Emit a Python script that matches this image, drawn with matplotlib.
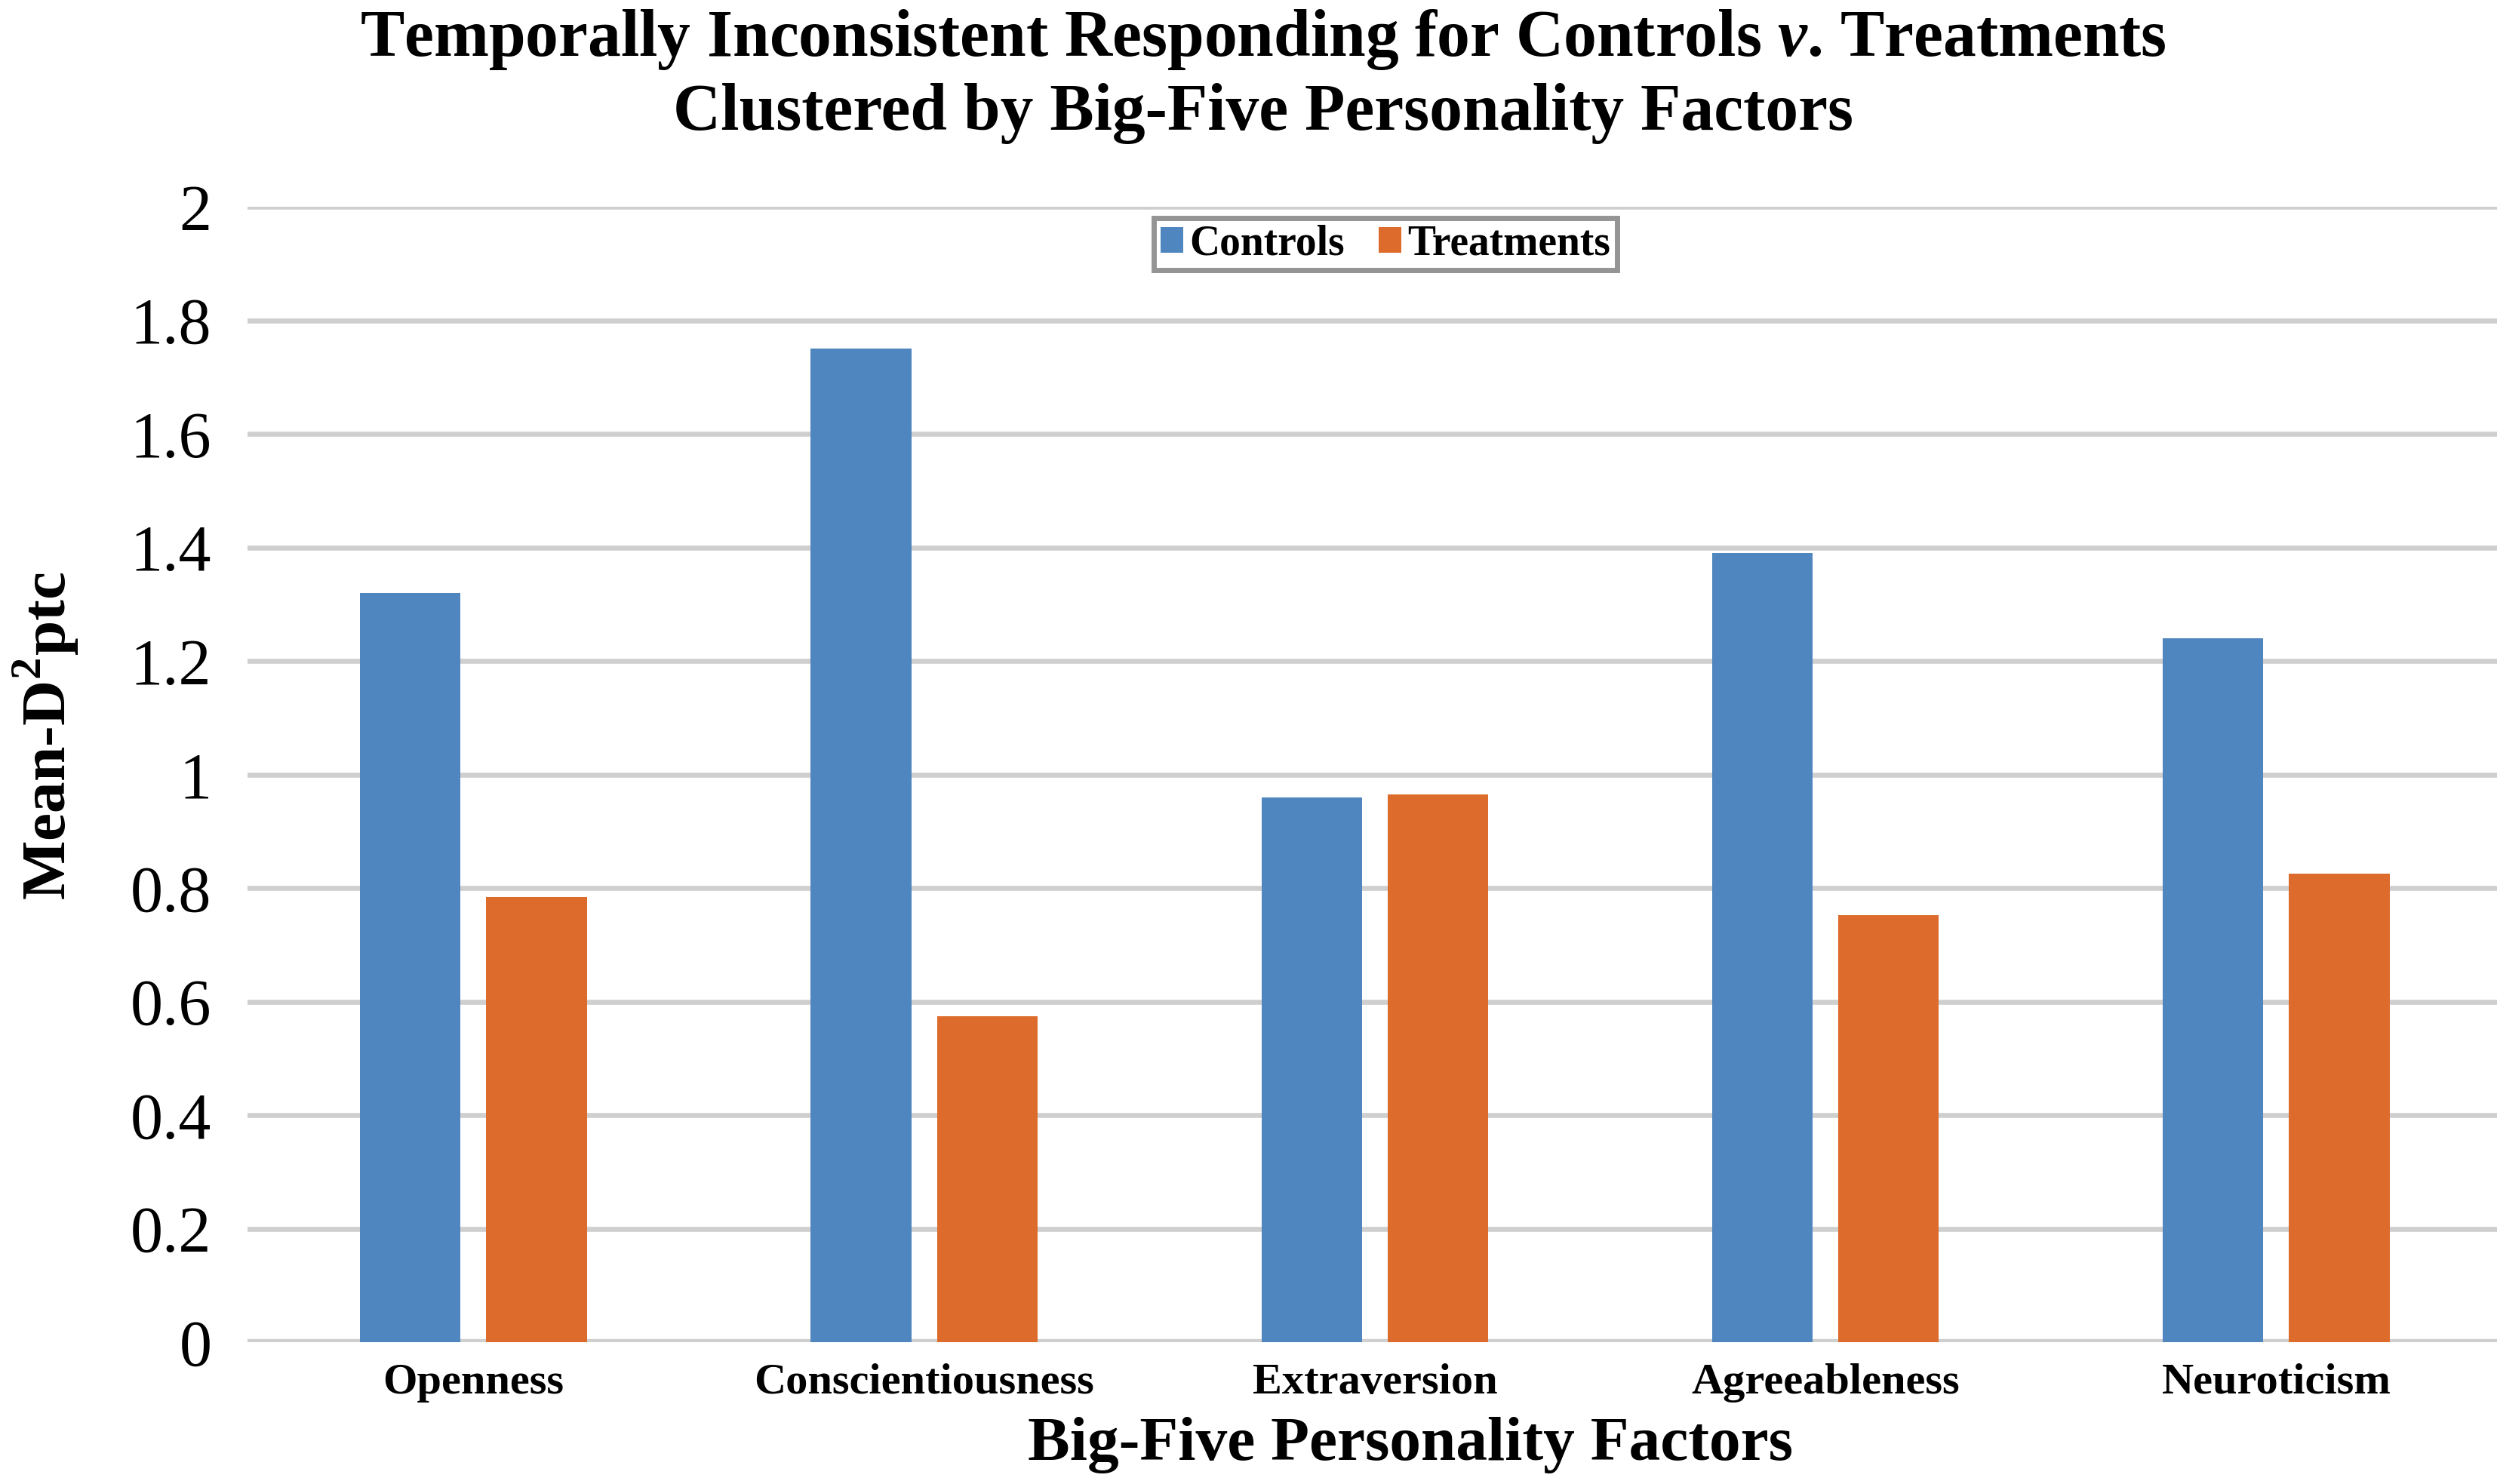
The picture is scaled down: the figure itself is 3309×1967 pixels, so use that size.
import numpy as np
import matplotlib.pyplot as plt

# data
factors = ['Openness', 'Conscientiousness', 'Extraversion', 'Agreeableness', 'Neuroticism']
controls = [1.32, 1.75, 0.96, 1.39, 1.24]
treatments = [0.785, 0.575, 0.965, 0.752, 0.825]
y_ticks = [0, 0.2, 0.4, 0.6, 0.8, 1, 1.2, 1.4, 1.6, 1.8, 2]
y_tick_labels = ['0', '0.2', '0.4', '0.6', '0.8', '1', '1.2', '1.4', '1.6', '1.8', '2']

plt.rcParams['font.family'] = ['Liberation Serif', 'DejaVu Serif']
plt.rcParams['mathtext.fontset'] = 'custom'
plt.rcParams['mathtext.rm'] = 'Liberation Serif'
plt.rcParams['mathtext.bf'] = 'Liberation Serif:bold'
plt.rcParams['mathtext.bfit'] = 'Liberation Serif:italic:bold'

fig = plt.figure(figsize=(16.545, 9.835), dpi=200)
ax = fig.add_axes([0.099, 0.0955, 0.901, 0.765])

x = np.arange(len(factors))
w = 0.223
off = 0.14
ax.bar(x - off, controls, w, color='#4f86bf', label='Controls', zorder=3)
ax.bar(x + off, treatments, w, color='#dc6b2c', label='Treatments', zorder=3)

ax.set_xlim(-0.502, 4.49)
ax.set_ylim(0, 2)
ax.set_yticks(y_ticks)
ax.set_yticklabels(y_tick_labels, fontsize=31)
ax.set_xticks(x)
ax.set_xticklabels(factors, fontsize=21, fontweight='bold')
ax.tick_params(axis='both', length=0)
ax.tick_params(axis='y', pad=17)
ax.tick_params(axis='x', pad=10)
ax.grid(axis='y', color='#cfcfcf', linewidth=2.4, zorder=0)
ax.set_axisbelow(True)
for s in ax.spines.values():
    s.set_visible(False)
ax.axhline(0, color='#cfcfcf', linewidth=3, zorder=2)

ax.set_ylabel('Mean-D$^{\\mathbf{2}}$ptc', fontsize=30, fontweight='bold')
ax.yaxis.set_label_coords(-0.074, 0.534)
ax.set_xlabel('Big-Five Personality Factors', fontsize=30, fontweight='bold')
ax.xaxis.set_label_coords(0.517, -0.066)

fig.text(0.506, 0.995, 'Temporally Inconsistent Responding for Controls $\\mathbfit{v}$. Treatments\n'
         'Clustered by Big-Five Personality Factors',
         ha='center', va='top', fontsize=31.5, fontweight='bold', linespacing=1.25)

leg = ax.legend(loc='upper center', bbox_to_anchor=(0.506, 0.99), ncol=2,
                prop={'weight': 'bold', 'size': 20}, frameon=True, fancybox=False,
                handlelength=0.55, handleheight=0.55, handletextpad=0.15, columnspacing=0.8,
                borderpad=0.15, borderaxespad=0)
leg.get_frame().set_edgecolor('#7a7a7a')
leg.get_frame().set_linewidth(2.5)

fig.savefig('out.png', dpi=200)
